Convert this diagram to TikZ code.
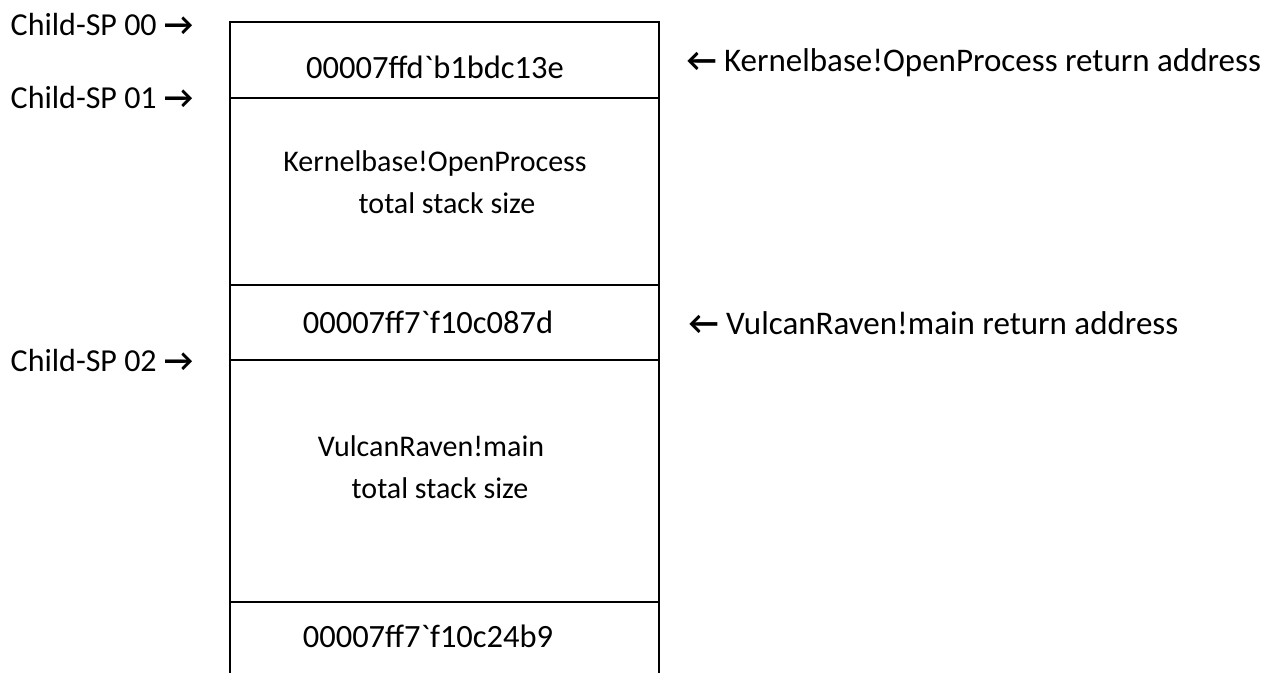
\documentclass[tikz,border=0pt]{standalone}
\usepackage{fontspec}
\setmainfont{Carlito}
\usetikzlibrary{positioning}

\begin{document}
\begin{tikzpicture}[x=1pt,y=-1pt,line width=1.4pt,
    every node/.style={font=\fontsize{30}{41}\selectfont,inner sep=0pt},
    addr/.style={anchor=base,font=\fontsize{32.5}{39}\selectfont},
    splabel/.style={anchor=base west,font=\fontsize{32}{38}\selectfont},
    retnote/.style={anchor=base west,font=\fontsize{33}{40}\selectfont}]
    \useasboundingbox (0,0) rectangle (1273,673);
    % the stack, open at the bottom
    \coordinate (TL) at (230,22);
    \coordinate (TR) at (659,22);
    \coordinate (BL) at (230,673);
    \coordinate (BR) at (659,673);
    \draw (BL) -- (TL) -- (TR) -- (BR);
    \foreach \y in {98,285,360,602}
        \draw (230,\y) -- (659,\y);

    \node[addr] (ret1) at (435,78) {00007ffd\textasciigrave b1bdc13e};
    \node (frame1) at (435,163) {Kernelbase!OpenProcess};
    \node (size1) at (447,203) {total stack size};
    \node[addr] (ret2) at (428,333) {00007ff7\textasciigrave f10c087d};
    \node (frame2) at (431,446) {VulcanRaven!main};
    \node (size2) at (440,488) {total stack size};
    \node[addr] (ret3) at (428,647) {00007ff7\textasciigrave f10c24b9};

    \node[splabel] (sp0) at (10,35) {Child-SP 00 \textbf{→}};
    \node[splabel] (sp1) at (10,108) {Child-SP 01 \textbf{→}};
    \node[splabel] (sp2) at (10,371) {Child-SP 02 \textbf{→}};

    \node[retnote] (lbl1) at (686,71) {\textbf{←} Kernelbase!OpenProcess return address};
    \node[retnote] (lbl2) at (688,334) {\textbf{←} VulcanRaven!main return address};
\end{tikzpicture}
\end{document}
